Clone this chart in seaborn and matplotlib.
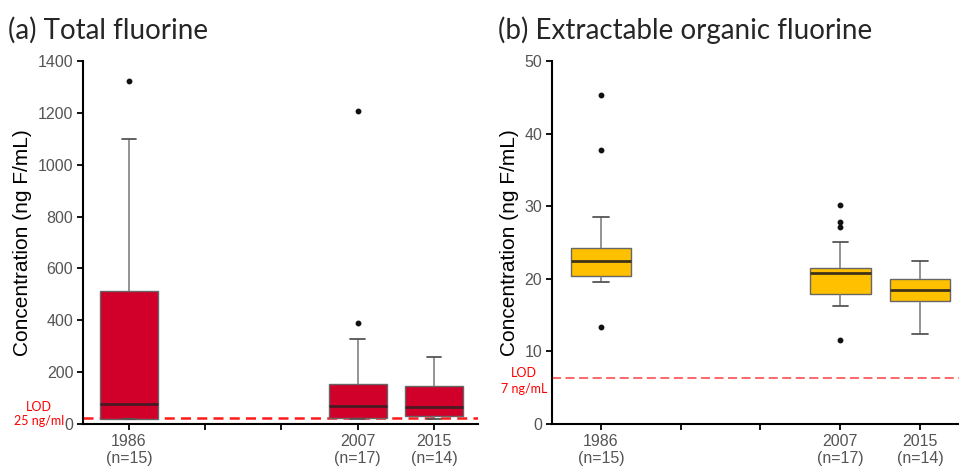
import numpy as np
import pandas as pd
import matplotlib.pyplot as plt
import seaborn as sns

# ── Data ──
slots = ["1986", "gap1", "gap2", "2007", "2015"]
tick_labels = ["1986\n(n=15)", "", "", "2007\n(n=17)", "2015\n(n=14)"]

# (a) total fluorine, ng F/mL
tf_1986 = [18, 19, 19, 20, 20, 35, 55, 78, 150, 310, 480, 548, 760, 1098, 1324]
tf_2007 = [20, 21, 21, 22, 22, 35, 48, 60, 71, 90, 110, 130, 155, 200, 327, 388, 1207]
tf_2015 = [19, 24, 28, 31, 31, 45, 60, 74, 95, 145, 145, 180, 220, 260]

# (b) extractable organic fluorine, ng F/mL
eof_1986 = [13.3, 19.5, 20.0, 20.4, 20.4, 21.0, 21.8, 22.4, 23.0, 23.6, 24.0, 24.6, 28.5, 37.8, 45.3]
eof_2007 = [11.5, 16.2, 17.0, 17.5, 17.9, 18.5, 19.5, 20.3, 20.8, 21.0, 21.2, 21.4, 21.5, 25.1, 27.2, 27.8, 30.2]
eof_2015 = [12.4, 15.0, 16.5, 16.9, 16.9, 17.8, 18.2, 18.8, 19.2, 20.0, 20.0, 21.0, 21.8, 22.5]

lod_tf = 25
lod_eof = 6.4

def long_form(groups):
    rows = []
    for year, vals in groups.items():
        rows += [(year, v) for v in vals]
    return pd.DataFrame(rows, columns=["year", "conc"])

df_tf = long_form({"1986": tf_1986, "2007": tf_2007, "2015": tf_2015})
df_eof = long_form({"1986": eof_1986, "2007": eof_2007, "2015": eof_2015})

sns.set_style("ticks")
plt.rcParams['font.family'] = ['Liberation Sans', 'DejaVu Sans']

fig = plt.figure(figsize=(9.59, 4.67), dpi=100)
ax1 = fig.add_axes([0.0866, 0.0921, 0.412, 0.7773])
ax2 = fig.add_axes([0.5756, 0.0921, 0.4244, 0.7773])

box_kw = dict(order=slots, width=0.76, saturation=1, linecolor="#666666", linewidth=1,
              fliersize=3.2, capwidths=0.19,
              flierprops=dict(marker='o', markerfacecolor='#111111', markeredgecolor='#111111'),
              whiskerprops=dict(color="#777777", linewidth=1.1),
              capprops=dict(color="#555555", linewidth=1.3))

sns.boxplot(data=df_tf, x="year", y="conc", color="#D0002A", ax=ax1,
            medianprops=dict(color="#4a1a24", linewidth=2), **box_kw)
sns.boxplot(data=df_eof, x="year", y="conc", color="#FFC000", ax=ax2,
            medianprops=dict(color="#3d3318", linewidth=2), **box_kw)

ax1.axhline(lod_tf, color="#FF1A1A", linestyle=(0, (4, 2.5)), linewidth=1.8, zorder=1)
ax2.axhline(lod_eof, color="#FF5A5A", linestyle=(0, (5, 2.5)), linewidth=1.3, zorder=1)

ax1.set_xlim(-0.603, 4.58)
ax1.set_ylim(0, 1400)
ax1.set_yticks(range(0, 1401, 200))
ax2.set_xlim(-0.615, 4.49)
ax2.set_ylim(0, 50)
ax2.set_yticks(range(0, 51, 10))

for ax in (ax1, ax2):
    sns.despine(ax=ax)
    ax.set_xticks(range(len(slots)))
    ax.set_xticklabels(tick_labels)
    ax.set_xlabel("")
    ax.set_ylabel("Concentration (ng F/mL)", fontsize=15, color="black", labelpad=4)
    for side in ("left", "bottom"):
        ax.spines[side].set_linewidth(1.5)
        ax.spines[side].set_color("black")
    ax.tick_params(axis="both", length=4, width=1.3, color="black",
                   labelsize=11.5, labelcolor="#555555", pad=3)

fig.text(0.008, 0.936, "(a) Total fluorine", fontsize=20, family="Lato", va="center")
fig.text(0.519, 0.936, "(b) Extractable organic fluorine", fontsize=20, family="Lato", va="center")

lod_style = dict(color="red", fontsize=9, family="Lato", ha="center", va="center")
fig.text(39 / 959, 1 - 407 / 467, "LOD", **lod_style)
fig.text(39 / 959, 1 - 421 / 467, "25 ng/ml", **lod_style)
fig.text(524 / 959, 1 - 373 / 467, "LOD", **lod_style)
fig.text(524 / 959, 1 - 389 / 467, "7 ng/mL", **lod_style)

fig.savefig("out.png", dpi=100)
